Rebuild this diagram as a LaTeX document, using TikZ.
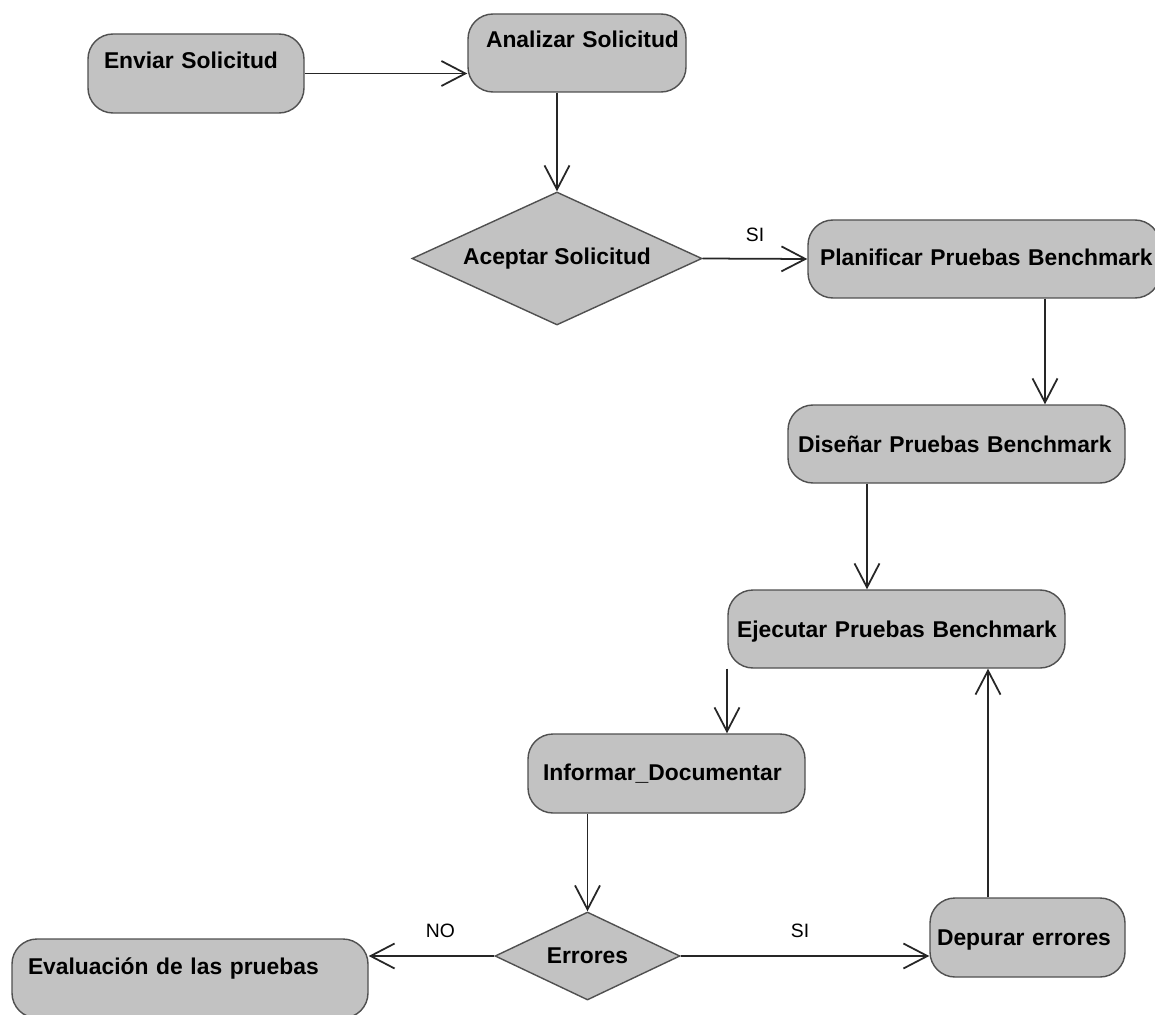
\documentclass[tikz,border=0pt]{standalone}
\usepackage{fontspec}
\setmainfont{Liberation Sans}
\usetikzlibrary{positioning}
\usetikzlibrary{shapes.geometric}
\usetikzlibrary{arrows.meta}
\definecolor{relleno}{RGB}{194,194,194}
\definecolor{borde}{RGB}{80,80,80}

\begin{document}
\begin{tikzpicture}[
    actividad/.style={rectangle,rounded corners=0.5cm,draw=borde,fill=relleno,line width=0.8pt,inner ysep=0pt,align=left,font=\bfseries\fontsize{13}{15}\selectfont},
    decision/.style={diamond,draw=borde,fill=relleno,line width=0.8pt,inner sep=0pt,font=\bfseries\fontsize{13}{15}\selectfont},
    flujo/.style={draw=black!85,line width=1pt,-{Straight Barb[length=0.48cm,width=0.5cm]}},
    guarda/.style={font=\fontsize{11}{13}\selectfont}]
    \useasboundingbox[fill=white] (0,0) rectangle (23.1,-20.3);

    \node[actividad,inner xsep=0.32cm,text width=3.68cm,text height=0.70cm,text depth=0.88cm] (enviar) at (3.92,-1.47) {\mbox{Enviar Solicitud}};
    \node[actividad,inner xsep=0.36cm,text width=3.64cm,text height=0.68cm,text depth=0.88cm] (analizar) at (11.54,-1.06) {\mbox{Analizar Solicitud}};
    \node[decision,aspect=2.18,minimum width=5.8cm,minimum height=2.66cm] (aceptar) at (11.14,-5.17) {Aceptar Solicitud};
    \node[actividad,inner xsep=0.24cm,text width=6.56cm,text height=0.92cm,text depth=0.64cm] (planificar) at (19.68,-5.18) {\mbox{Planificar Pruebas Benchmark}};
    \node[actividad,inner xsep=0.20cm,text width=6.34cm,text height=0.94cm,text depth=0.62cm] (disenar) at (19.13,-8.88) {\mbox{Diseñar Pruebas Benchmark}};
    \node[actividad,inner xsep=0.18cm,text width=6.38cm,text height=0.94cm,text depth=0.62cm] (ejecutar) at (17.93,-12.58) {\mbox{Ejecutar Pruebas Benchmark}};
    \node[actividad,inner xsep=0.30cm,text width=4.94cm,text height=0.92cm,text depth=0.66cm] (informar) at (13.33,-15.47) {\mbox{Informar\_Documentar}};
    \node[decision,aspect=2.1,minimum width=3.7cm,minimum height=1.76cm] (errores) at (11.75,-19.12) {Errores};
    \node[actividad,inner xsep=0.32cm,text width=6.48cm,text height=0.70cm,text depth=0.88cm] (evaluacion) at (3.80,-19.57) {\mbox{Evaluación de las pruebas}};
    \node[actividad,inner xsep=0.14cm,text width=3.62cm,text height=0.94cm,text depth=0.64cm] (depurar) at (20.55,-18.75) {\mbox{Depurar errores}};

    % flujo principal
    \draw[flujo] (enviar.east) -- (enviar.east -| analizar.west);
    \draw[flujo] (aceptar.north |- analizar.south) -- (aceptar.north);
    \draw[flujo] (aceptar.east) -- node[guarda,pos=0.5,yshift=0.48cm] {SI} (planificar.west);
    \draw[flujo] ([xshift=1.22cm]planificar.south) -- ([xshift=1.22cm]planificar.south |- disenar.north);
    \draw[flujo] ([xshift=-1.79cm]disenar.south) -- ([xshift=-1.79cm]disenar.south |- ejecutar.north);
    \draw[flujo] ([xshift=1.21cm]informar.north |- ejecutar.south) -- ([xshift=1.21cm]informar.north);
    \draw[flujo] (errores.north |- informar.south) -- (errores.north);

    % salidas de Errores
    \draw[flujo] (errores.west) -- node[guarda,pos=0.43,yshift=0.5cm] {NO} (errores.west -| evaluacion.east);
    \draw[flujo] (errores.east) -- node[guarda,pos=0.48,yshift=0.5cm] {SI} (errores.east -| depurar.west);
    \draw[flujo] ([xshift=-0.79cm]depurar.north) -- ([xshift=-0.79cm]depurar.north |- ejecutar.south);
\end{tikzpicture}
\end{document}
